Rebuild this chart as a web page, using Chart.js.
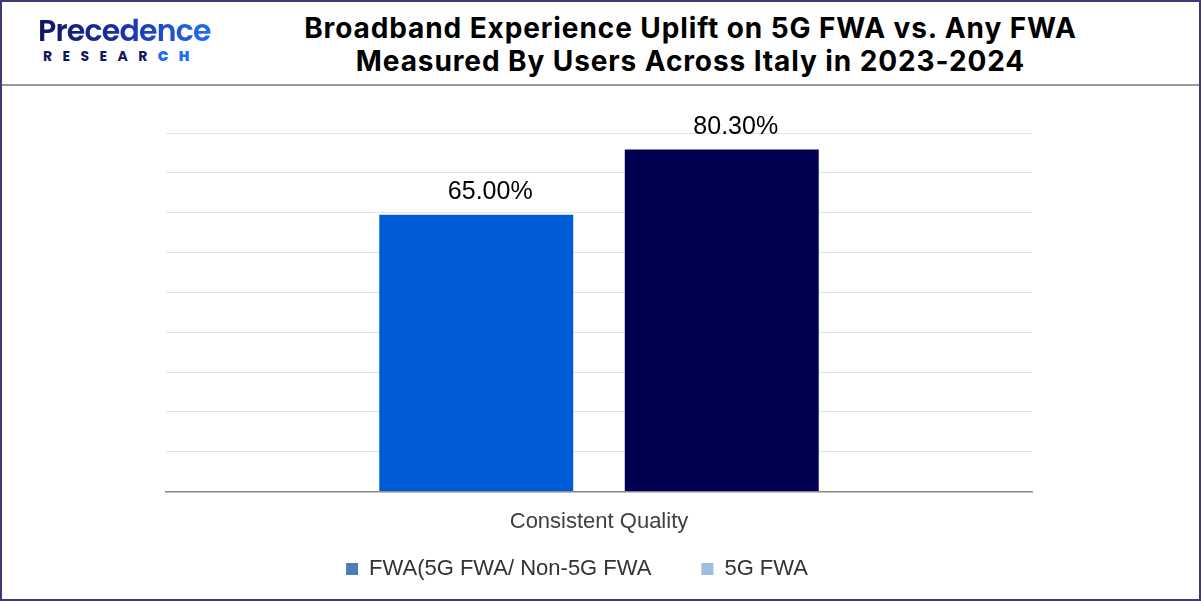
<!DOCTYPE html>
<html>
<head>
<meta charset="utf-8">
<script src="https://cdn.jsdelivr.net/npm/chart.js@4.4.1/dist/chart.umd.min.js"></script>
<style>
  html, body { margin:0; padding:0; background:#fff; }
  #frame { position:relative; width:1197px; height:597px; border:2px solid #3b3b7a; overflow:hidden; }
  #header { position:absolute; left:0; top:0; width:1197px; height:82px; border-bottom:2px solid #9a9a9a; }
  #logo { position:absolute; left:36px; top:12px; font-family:"Poppins","Lato","DejaVu Sans",sans-serif; }
  #logo .brand { font-size:30px; font-weight:600; letter-spacing:-0.8px; line-height:34px;
      background:linear-gradient(90deg,#0f1660 0%,#1a2ea8 45%,#1f6ff0 100%); -webkit-background-clip:text; color:transparent; }
  #logo .sub { font-size:14px; font-weight:700; letter-spacing:10.4px; line-height:16px; color:#0f1660; margin-left:5px; }
  #logo .sub b { color:#1f6ff0; }
  #title { position:absolute; left:220px; right:40px; top:10px; text-align:center;
      font-family:"Inter","Roboto","Liberation Sans",sans-serif; font-weight:700; font-size:28px;
      letter-spacing:0.9px; line-height:33px; color:#000; }
  #wrap { position:absolute; left:0; top:84px; width:1197px; height:513px; }
</style>
</head>
<body>
<div id="frame">
  <div id="header">
    <div id="logo"><div class="brand">Precedence</div><div class="sub">RESEAR<b>CH</b></div></div>
    <div id="title">Broadband Experience Uplift on 5G FWA vs. Any FWA<br>Measured By Users Across Italy in 2023-2024</div>
  </div>
  <div id="wrap"><canvas id="chart"></canvas></div>
</div>
<script>
var categories   = ['Consistent Quality'];
var seriesNames  = ['FWA(5G FWA/ Non-5G FWA', '5G FWA'];
var fwaAny       = [65.0];
var fwa5g        = [80.3];
var barColors    = ['#005cd6', '#000052'];
var legendColors = ['#4a7ebb', '#9dbde3'];

var FONT = '"Liberation Sans", Arial, sans-serif';

var valueLabels = {
    id: 'valueLabels',
    afterDatasetsDraw: function (chart) {
        var ctx = chart.ctx;
        ctx.save();
        ctx.font = '25px ' + FONT;
        ctx.fillStyle = '#000';
        ctx.textAlign = 'center';
        ctx.textBaseline = 'bottom';
        chart.data.datasets.forEach(function (ds, i) {
            chart.getDatasetMeta(i).data.forEach(function (bar, j) {
                ctx.fillText(ds.data[j].toFixed(2) + '%', bar.x + 14, bar.y - 10);
            });
        });
        ctx.restore();
    }
};

// legend: wide gap between items but keep it low and slightly left, like the original
var legendPlace = {
    id: 'legendPlace',
    beforeLayout: function (chart) {
        var lg = chart.legend;
        if (lg && !lg._patched) {
            var fit = lg.fit;
            lg.fit = function () { fit.call(this); this.height = 55; };
            lg._patched = true;
        }
    },
    afterLayout: function (chart) {
        var lg = chart.legend;
        lg.top = 422; lg.bottom = chart.height;
        lg.left -= 22; lg.right -= 22;
    }
};

new Chart(document.getElementById('chart'), {
    type: 'bar',
    data: {
        labels: categories,
        datasets: [
            { label: seriesNames[0], data: fwaAny, backgroundColor: barColors[0] },
            { label: seriesNames[1], data: fwa5g,  backgroundColor: barColors[1] }
        ]
    },
    options: {
        responsive: true, maintainAspectRatio: false, animation: false,
        categoryPercentage: 0.567, barPercentage: 0.79,
        layout: { padding: { left: 164, right: 167, top: 47, bottom: 0 } },
        plugins: {
            legend: {
                position: 'bottom',
                labels: {
                    boxWidth: 12, boxHeight: 12, padding: 50, color: '#333',
                    font: { size: 22, family: FONT },
                    generateLabels: function (chart) {
                        return chart.data.datasets.map(function (ds, i) {
                            return { text: ds.label, fillStyle: legendColors[i], strokeStyle: legendColors[i],
                                     lineWidth: 0, datasetIndex: i, fontColor: '#333' };
                        });
                    }
                }
            },
            tooltip: { enabled: false }
        },
        scales: {
            x: {
                grid: { display: false },
                border: { color: '#888', width: 1.5 },
                ticks: { color: '#404040', padding: 9, font: { size: 22, family: FONT } }
            },
            y: {
                min: 0, max: 84.2,
                ticks: { display: false, count: 10 },
                border: { display: false },
                grid: { color: '#e3e3e3', drawTicks: false }
            }
        }
    },
    plugins: [valueLabels, legendPlace]
});
</script>
</body>
</html>
